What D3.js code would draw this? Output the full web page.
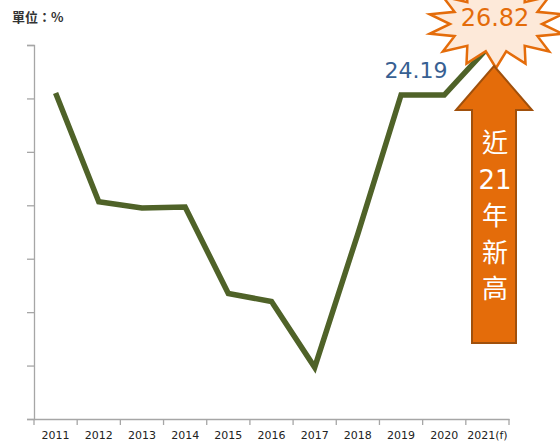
<!DOCTYPE html>
<html>
<head>
<meta charset="utf-8">
<script src="https://cdn.jsdelivr.net/npm/d3@7"></script>
<style>
  body { margin: 0; background: #fff; }
  svg { display: block; }
</style>
</head>
<body>
<svg id="chart" width="560" height="445"></svg>
<script>
// chart data
const years = ['2011', '2012', '2013', '2014', '2015', '2016', '2017', '2018', '2019', '2020', '2021(f)'];
const values = [24.3, 18.2, 17.85, 17.9, 13.05, 12.6, 8.9, 16.4, 24.19, 24.19, 26.82];
const yTicks = [6, 9, 12, 15, 18, 21, 24, 27];
const unitLabel = '單位：%';
const calloutLabel = '24.19';
const forecastLabel = '26.82';
const arrowText = ['近', '21', '年', '新', '高'];

const svg = d3.select('#chart');
const plotLeft = 34, plotRight = 509, plotTop = 45, plotBottom = 419;

const x = d3.scaleBand().domain(years).range([plotLeft, plotRight]);
const y = d3.scaleLinear().domain([6, 27]).range([plotBottom, plotTop]);

// y axis, ticks without labels
const yAxis = svg.append('g')
  .attr('transform', `translate(${plotLeft},0)`)
  .call(d3.axisLeft(y).tickValues(yTicks).tickSize(7).tickFormat(''));
yAxis.selectAll('path, line').attr('stroke', '#a6a6a6').attr('stroke-width', 1.3);

// x axis: labels at band centers, ticks at band edges
const xAxis = svg.append('g')
  .attr('transform', `translate(0,${plotBottom})`)
  .call(d3.axisBottom(x).tickSize(0).tickPadding(12));
xAxis.select('.domain').attr('stroke', '#a6a6a6').attr('stroke-width', 1.3);
xAxis.selectAll('text')
  .attr('fill', '#222')
  .style('font-family', 'DejaVu Sans')
  .style('font-size', '11px');
const edges = years.map(d => x(d)).concat([x.range()[1]]);
xAxis.selectAll('line.edge')
  .data(edges)
  .join('line')
  .attr('class', 'edge')
  .attr('x1', d => d).attr('x2', d => d)
  .attr('y1', 0).attr('y2', 6)
  .attr('stroke', '#a6a6a6')
  .attr('stroke-width', 1.3);

// the line
const line = d3.line()
  .x((d, i) => x(years[i]) + x.bandwidth() / 2)
  .y(d => y(d));
svg.append('path')
  .datum(values)
  .attr('d', line)
  .attr('fill', 'none')
  .attr('stroke', '#4f6228')
  .attr('stroke-width', 5.5)
  .attr('stroke-linejoin', 'miter');

// unit title
svg.append('text')
  .attr('x', 12).attr('y', 22)
  .attr('fill', '#333')
  .style('font-family', 'Noto Sans CJK TC')
  .style('font-weight', 'bold')
  .style('font-size', '13px')
  .text(unitLabel);

// 2019 callout
svg.append('text')
  .attr('x', x('2019') + x.bandwidth() / 2 + 15)
  .attr('y', y(24.19) - 17)
  .attr('text-anchor', 'middle')
  .attr('fill', '#376092')
  .style('font-family', 'DejaVu Sans')
  .style('font-size', '22px')
  .text(calloutLabel);

// starburst behind the forecast value
const cx = 496, cy = 24, spikes = 14;
const starPts = d3.range(spikes * 2).map(i => {
  const a = Math.PI * i / spikes - Math.PI / 2;
  const outer = i % 2 === 0;
  const rx = outer ? 68 : 46;
  const ry = outer ? 44 : 28;
  return [cx + rx * Math.cos(a), cy + ry * Math.sin(a)];
});
svg.append('path')
  .attr('d', 'M' + starPts.join('L') + 'Z')
  .attr('fill', '#fde9d9')
  .attr('stroke', '#e46c0a')
  .attr('stroke-width', 2.5)
  .attr('stroke-linejoin', 'miter');
svg.append('text')
  .attr('x', 495).attr('y', 26)
  .attr('text-anchor', 'middle')
  .attr('fill', '#e46c0a')
  .style('font-family', 'DejaVu Sans')
  .style('font-size', '24px')
  .text(forecastLabel);

// up arrow
const ax = 494;
const arrowPts = [
  [ax, 66], [ax + 38, 110], [ax + 22, 110], [ax + 22, 343],
  [ax - 22, 343], [ax - 22, 110], [ax - 38, 110]
];
svg.append('path')
  .attr('d', 'M' + arrowPts.join('L') + 'Z')
  .attr('fill', '#e46c0a')
  .attr('stroke', '#a0500c')
  .attr('stroke-width', 2);

svg.append('g')
  .selectAll('text')
  .data(arrowText)
  .join('text')
  .attr('x', ax + 1)
  .attr('y', (d, i) => 152 + i * 36.5)
  .attr('text-anchor', 'middle')
  .attr('fill', '#fff')
  .style('font-family', d => /\d/.test(d) ? 'DejaVu Sans' : 'Noto Sans CJK TC')
  .style('font-size', '26px')
  .text(d => d);
</script>
</body>
</html>
